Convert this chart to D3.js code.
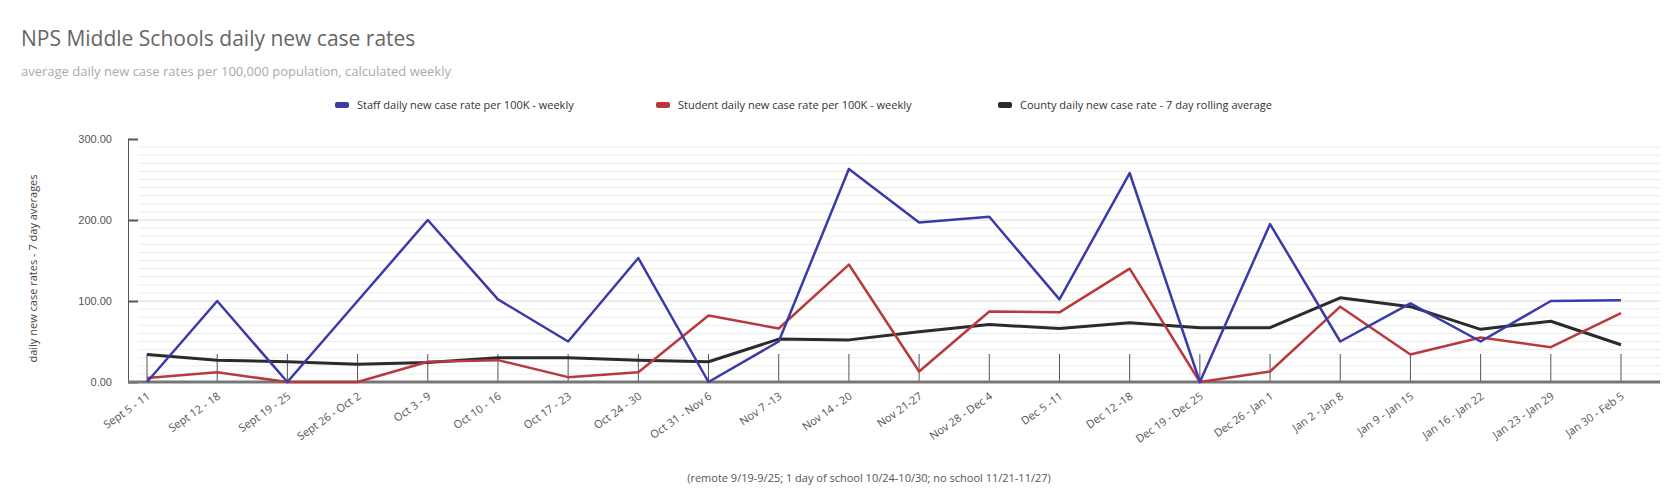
<!DOCTYPE html>
<html><head><meta charset="utf-8">
<script src="https://cdn.jsdelivr.net/npm/d3@7"></script>
<style>body{margin:0;background:#fff;font-family:"Open Sans",sans-serif}</style>
</head><body>
<svg id="chart" width="1672" height="502"></svg>
<script>
const weeks = ["Sept 5 - 11","Sept 12 - 18","Sept 19 - 25","Sept 26 - Oct 2","Oct 3 - 9","Oct 10 - 16","Oct 17 - 23","Oct 24 - 30","Oct 31 - Nov 6","Nov 7 -13","Nov 14 - 20","Nov 21-27","Nov 28 - Dec 4","Dec 5 -11","Dec 12 -18","Dec 19 - Dec 25","Dec 26 - Jan 1","Jan 2 - Jan 8","Jan 9 - Jan 15","Jan 16 - Jan 22","Jan 23 - Jan 29","Jan 30 - Feb 5"];
const staff = [0,100,0,100,200,102,50,153,0,50,263,197,204,102,258,0,195,50,97,50,100,101];
const student = [5,12,0,0,25,27,6,12,82,66,145,13,87,86,140,0,13,93,34,55,43,85];
const county = [34,27,25,22,24,30,30,27,25,53,52,62,71,66,73,67,67,104,93,65,75,46];
const yTicks = [0,100,200,300];

const series = [
  {name:"Staff daily new case rate per 100K - weekly", values:staff, color:"#3a3aa8"},
  {name:"Student daily new case rate per 100K - weekly", values:student, color:"#b83a3e"},
  {name:"County daily new case rate - 7 day rolling average", values:county, color:"#2b2b2b"}
];

const svg = d3.select("#chart");
const pLeft = 128, pRight = 1660, pTop = 139, pBottom = 382;

const x = d3.scalePoint().domain(weeks).range([147, 1621]);
const y = d3.scaleLinear().domain([0,300]).range([pBottom, pTop]);

svg.append("text").attr("x",21).attr("y",46).attr("font-size",21).attr("fill","#666")
  .text("NPS Middle Schools daily new case rates");
svg.append("text").attr("x",21).attr("y",76).attr("font-size",13).attr("fill","#aaa")
  .text("average daily new case rates per 100,000 population, calculated weekly");

// minor grid
svg.append("g").selectAll("line").data(d3.range(10,300,10)).join("line")
  .attr("x1",pLeft+10).attr("x2",pRight).attr("y1",d=>y(d)).attr("y2",d=>y(d))
  .attr("stroke",d=>d%100===0?"#d8d8d8":"#ececec").attr("stroke-width",1);

// y axis
const ya = svg.append("g").attr("transform",`translate(${pLeft},0)`)
  .call(d3.axisLeft(y).tickValues(yTicks).tickFormat(d3.format(".2f")).tickSize(-10).tickPadding(16));
ya.select(".domain").attr("stroke","#555");
ya.selectAll(".tick line").attr("stroke","#555").attr("stroke-width",2);
ya.selectAll("text").attr("font-size",11).attr("fill","#555");

// x ticks inside plot
svg.append("g").selectAll("line").data(weeks).join("line")
  .attr("x1",d=>x(d)).attr("x2",d=>x(d)).attr("y1",pBottom-28).attr("y2",pBottom)
  .attr("stroke","#555").attr("stroke-width",1);
svg.append("line").attr("x1",pLeft).attr("x2",pRight).attr("y1",pBottom).attr("y2",pBottom)
  .attr("stroke","#777").attr("stroke-width",3);

svg.append("g").selectAll("text").data(weeks).join("text")
  .attr("transform",d=>`translate(${x(d)+4},${pBottom+16}) rotate(-35)`)
  .attr("text-anchor","end").attr("font-size",11).attr("fill","#555").text(d=>d);

svg.append("text").attr("transform",`translate(37,${(pTop+pBottom)/2+8}) rotate(-90)`)
  .attr("text-anchor","middle").attr("font-size",11).attr("fill","#444")
  .text("daily new case rates - 7 day averages");

svg.append("text").attr("x",869).attr("y",482).attr("text-anchor","middle")
  .attr("font-size",11).attr("fill","#555")
  .text("(remote 9/19-9/25; 1 day of school 10/24-10/30; no school 11/21-11/27)");

const line = d3.line().x((d,i)=>x(weeks[i])).y(d=>y(d));
svg.append("g").selectAll("path").data([series[2],series[1],series[0]]).join("path")
  .attr("d",d=>line(d.values)).attr("fill","none").attr("stroke",d=>d.color)
  .attr("stroke-width",d=>d.color==="#2b2b2b"?3:2.5).attr("stroke-linejoin","round");

// legend
const legX = [335, 656, 998];
const lg = svg.append("g").selectAll("g").data(series).join("g")
  .attr("transform",(d,i)=>`translate(${legX[i]},105)`);
lg.append("rect").attr("x",0).attr("y",-3).attr("width",14).attr("height",6).attr("rx",2).attr("fill",d=>d.color);
lg.append("text").attr("x",22).attr("y",4).attr("font-size",11).attr("fill","#333").text(d=>d.name);
</script>
</body></html>
